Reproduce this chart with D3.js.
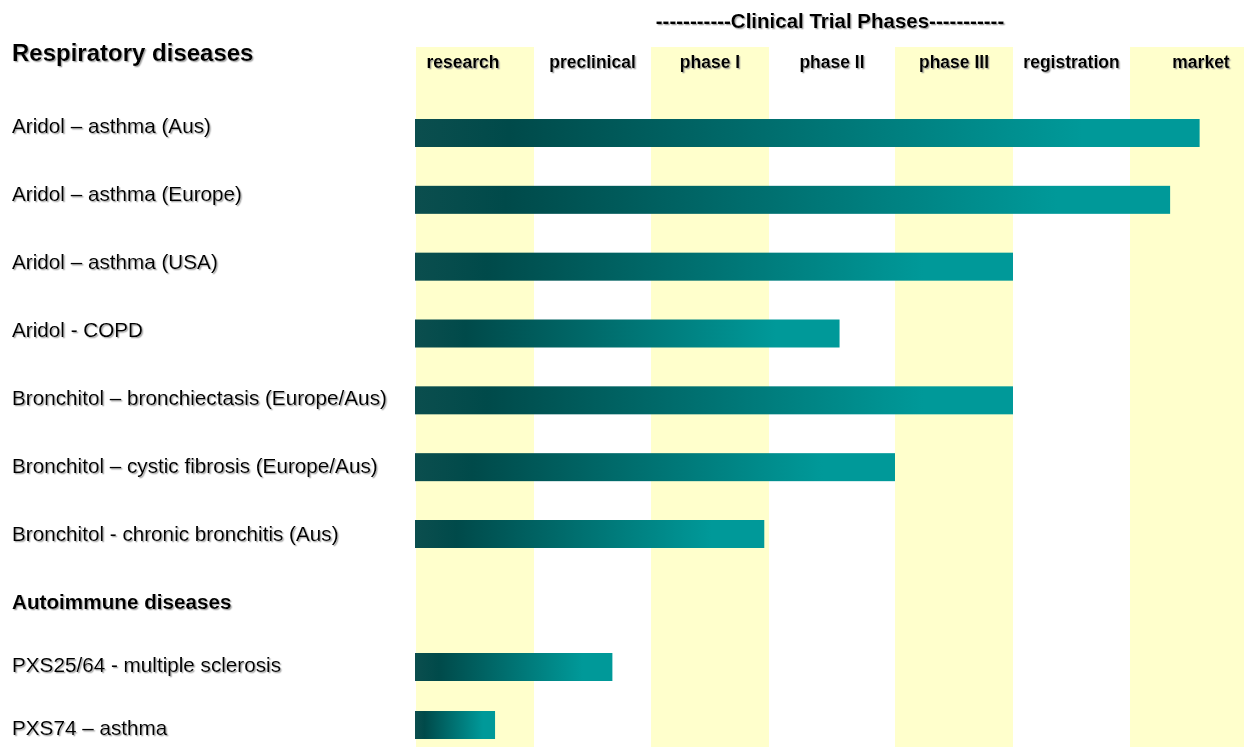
<!DOCTYPE html>
<meta charset="utf-8">
<script src="https://d3js.org/d3.v7.min.js"></script>
<style>
  body { margin: 0; background: #fff; }
  text { font-family: "Liberation Sans", Arial, sans-serif; fill: #000; }
</style>
<body>
<script>
// Phase columns (x axis)
var phases = ["research", "preclinical", "phase I", "phase II", "phase III", "registration", "market"];

// Rows: headings and programmes, in order top to bottom
var rowLabels = [
  "Respiratory diseases",
  "Aridol \u2013 asthma (Aus)",
  "Aridol \u2013 asthma (Europe)",
  "Aridol \u2013 asthma (USA)",
  "Aridol - COPD",
  "Bronchitol \u2013 bronchiectasis (Europe/Aus)",
  "Bronchitol \u2013 cystic fibrosis (Europe/Aus)",
  "Bronchitol - chronic bronchitis (Aus)",
  "Autoimmune diseases",
  "PXS25/64 - multiple sclerosis",
  "PXS74 \u2013 asthma"
];
var isHeading = [true, false, false, false, false, false, false, false, true, false, false];

// Progress through the phases (in phase units, 0 = start of research), null for headings
var progress = [null, 6.59, 6.34, 5.0, 3.56, 5.0, 4.0, 2.96, null, 1.67, 0.67];

var width = 1244, height = 747;

var svg = d3.select("body")
  .append("svg")
  .attr("width", width)
  .attr("height", height);

// Drop shadow for text
var defs = svg.append("defs");
defs.append("filter")
    .attr("id", "shadow")
    .attr("x", "-5%").attr("y", "-20%")
    .attr("width", "110%").attr("height", "150%")
  .append("feDropShadow")
    .attr("dx", 1.3).attr("dy", 1.3)
    .attr("stdDeviation", 0.6)
    .attr("flood-color", "#888")
    .attr("flood-opacity", 0.7);

// Bar gradient
var grad = defs.append("linearGradient")
    .attr("id", "barGrad")
    .attr("x1", "0%").attr("x2", "100%")
    .attr("y1", "0%").attr("y2", "0%");
[[0, "#0b4e4e"], [0.12, "#004a4a"], [0.85, "#009999"], [1, "#009999"]].forEach(function(s) {
  grad.append("stop").attr("offset", s[0]).attr("stop-color", s[1]);
});

// x scale: phase units -> pixels (phase II column is a bit wider)
var x = d3.scaleLinear()
  .domain([0, 1, 2, 3, 4, 5, 6, 7])
  .range([416, 534, 651, 769, 895, 1013, 1130, 1248]);

// y scales for label baselines and bar centres
var labelY = d3.scaleLinear().domain([0, 1, 8, 10]).range([61, 133, 609, 735]);
var barY = d3.scaleLinear().domain([1, 7, 9, 10]).range([133, 534, 667, 725]);
var barH = 28;

// Alternating yellow columns
svg.selectAll(".band")
  .data(phases)
  .enter()
  .append("rect")
  .attr("class", "band")
  .attr("x", function(d, i) { return x(i); })
  .attr("y", 47)
  .attr("width", function(d, i) { return x(i + 1) - x(i); })
  .attr("height", height - 47)
  .attr("fill", function(d, i) { return i % 2 === 0 ? "#ffffcc" : "#ffffff"; });

// Phase names
svg.selectAll(".phase-label")
  .data(phases)
  .enter()
  .append("text")
  .attr("class", "phase-label")
  .attr("x", function(d, i) { return (x(i) + x(i + 1)) / 2 - (i === 0 ? 12 : 0) + (i === 6 ? 12 : 0); })
  .attr("y", 68)
  .attr("text-anchor", "middle")
  .attr("font-size", "17.5px")
  .attr("font-weight", "bold")
  .attr("filter", "url(#shadow)")
  .text(function(d) { return d; });

// Title
svg.append("text")
  .attr("x", 830)
  .attr("y", 28)
  .attr("text-anchor", "middle")
  .attr("font-size", "20.5px")
  .attr("font-weight", "bold")
  .attr("filter", "url(#shadow)")
  .text("-----------Clinical Trial Phases-----------");

// Row labels
svg.selectAll(".row-label")
  .data(rowLabels)
  .enter()
  .append("text")
  .attr("class", "row-label")
  .attr("x", 12)
  .attr("y", function(d, i) { return labelY(i); })
  .attr("font-size", function(d, i) { return i === 0 ? "24px" : "20.7px"; })
  .attr("font-weight", function(d, i) { return isHeading[i] ? "bold" : "normal"; })
  .attr("filter", "url(#shadow)")
  .text(function(d) { return d; });

// Bars
var bars = rowLabels.map(function(d, i) { return {label: d, row: i, value: progress[i]}; })
  .filter(function(d) { return d.value !== null; });

svg.selectAll(".bar")
  .data(bars)
  .enter()
  .append("rect")
  .attr("class", "bar")
  .attr("x", x(0) - 1)
  .attr("y", function(d) { return barY(d.row) - barH / 2; })
  .attr("width", function(d) { return x(d.value) - x(0) + 1; })
  .attr("height", barH)
  .attr("fill", "url(#barGrad)");
</script>
</body>
</html>
